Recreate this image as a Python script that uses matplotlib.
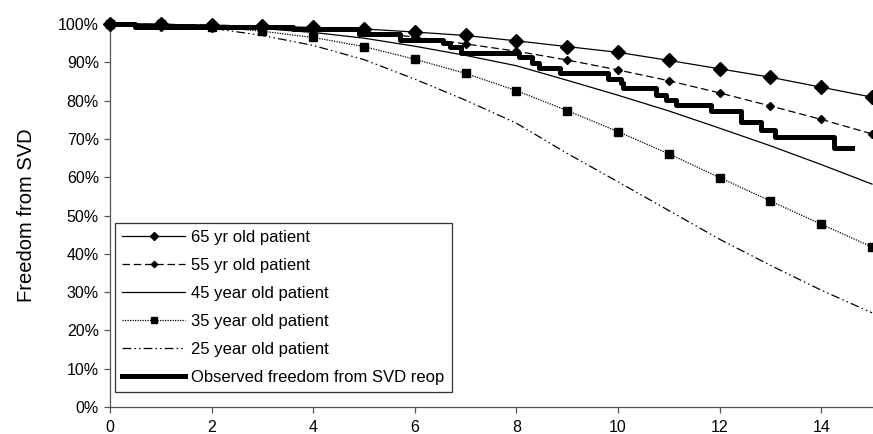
import matplotlib
matplotlib.use("Agg")
import matplotlib.pyplot as plt
from matplotlib.ticker import FuncFormatter

plt.rcParams['font.family'] = ['Liberation Sans', 'DejaVu Sans']

years = list(range(16))
age65 = [100, 99.9, 99.7, 99.4, 99.1, 98.7, 97.9, 97.0, 95.6, 94.1, 92.6, 90.5, 88.3, 86.1, 83.5, 80.9]
age55 = [100, 99.9, 99.7, 99.4, 98.8, 98.0, 96.6, 94.8, 92.9, 90.6, 88.0, 85.2, 82.0, 78.6, 75.1, 71.3]
age45 = [100, 99.95, 99.6, 98.8, 97.8, 96.3, 94.2, 91.8, 89.1, 85.3, 81.4, 77.3, 72.8, 68.2, 63.3, 58.2]
age35 = [100, 99.9, 99.3, 98.1, 96.5, 94.1, 90.8, 87.1, 82.6, 77.4, 71.9, 66.1, 59.9, 53.8, 47.7, 41.8]
age25 = [100, 99.8, 98.9, 97.0, 94.4, 90.7, 85.6, 80.1, 74.1, 66.2, 58.8, 51.3, 43.8, 37.0, 30.5, 24.6]

obs_t = [0, 0.5, 3.6, 4.9, 5.7, 6.55, 6.7, 6.9, 8.05, 8.3, 8.45, 8.85, 9.8, 10.05, 10.1,
         10.75, 10.95, 11.15, 11.83, 12.42, 12.82, 13.1, 14.25, 14.6]
obs_s = [100, 99.3, 98.6, 97.5, 95.9, 95.0, 94.0, 92.4, 91.4, 89.8, 88.5, 87.2, 85.7, 84.5, 83.3,
         81.5, 80.2, 78.9, 77.3, 74.5, 72.4, 70.6, 67.5, 67.5]

labels = ["65 yr old patient", "55 yr old patient", "45 year old patient",
          "35 year old patient", "25 year old patient", "Observed freedom from SVD reop"]

fig = plt.figure(figsize=(8.73, 4.34), dpi=100)
ax = fig.add_axes([110/873, 1 - 407/434, 762/873, 383/434])

ax.plot(years, [v/100 for v in age65], color='black', lw=0.9, marker='D', ms=6.8,
        label=labels[0], clip_on=False, zorder=5)
ax.plot(years, [v/100 for v in age55], color='black', lw=0.9, ls=(0, (6, 3)), marker='D', ms=3.6,
        label=labels[1], clip_on=False, zorder=5)
ax.plot(years, [v/100 for v in age45], color='black', lw=0.9, label=labels[2], clip_on=False)
ax.plot(years, [v/100 for v in age35], color='black', lw=0.9, ls=(0, (1, 1)), marker='s', ms=5.6,
        label=labels[3], clip_on=False, zorder=5)
ax.plot(years, [v/100 for v in age25], color='black', lw=0.9, ls=(0, (7, 2.5, 1.2, 2.5, 1.2, 2.5)),
        label=labels[4], clip_on=False)
ax.plot(obs_t, [v/100 for v in obs_s], color='black', lw=3.6, drawstyle='steps-post',
        label=labels[5], clip_on=False, zorder=6)

ax.set_xlim(0, 15)
ax.set_ylim(0, 1)
ax.set_xticks(range(0, 15, 2))
ax.set_yticks([i/10 for i in range(11)])
ax.yaxis.set_major_formatter(FuncFormatter(lambda v, p: f"{v*100:.0f}%"))
for s in ['top', 'right']:
    ax.spines[s].set_visible(False)
for s in ['left', 'bottom']:
    ax.spines[s].set_color('#555555')
    ax.spines[s].set_linewidth(0.9)
ax.tick_params(axis='both', colors='#555555', labelcolor='black', labelsize=11.5, length=4.5, width=0.9)
ax.tick_params(axis='x', pad=5)
ax.set_ylabel("Freedom from SVD", fontsize=14.5, labelpad=16)

leg = ax.legend(loc='lower left', bbox_to_anchor=(0.0066, 0.04), fontsize=12,
                frameon=True, fancybox=False, edgecolor='#333333', framealpha=1,
                handlelength=3.8, handletextpad=0.36, labelspacing=0.78, borderpad=0.42,
                borderaxespad=0, numpoints=1)
leg.get_frame().set_linewidth(0.9)
handles = leg.legend_handles
handles[0].set_markersize(4.4)
handles[1].set_markersize(3.2)
handles[3].set_markersize(5.0)

fig.savefig("out.png", dpi=100)
